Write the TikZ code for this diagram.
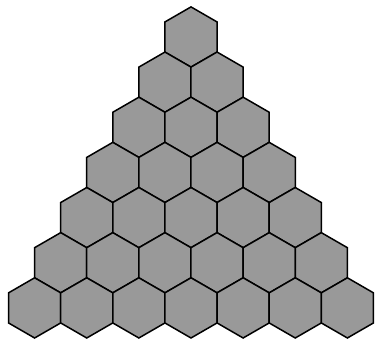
\documentclass[tikz,border=0pt]{standalone}
\definecolor{hexgray}{gray}{0.6}
\tikzset{hexcell/.style={draw=black,fill=hexgray,line width=1.5pt,line join=miter}}

\begin{document}
\begin{tikzpicture}[x=1pt,y=-1pt]
\useasboundingbox (0,0) rectangle (376,339);
% seven rows, row r holds r+1 cells
\foreach \r in {0,...,6}{
  \foreach \k in {0,...,\r}{
    \pgfmathsetmacro{\cx}{191+(\k-\r/2)*52.13}
    \pgfmathsetmacro{\cy}{37+\r*45.15}
    \draw[hexcell] (\cx,\cy) +(0,-30.1) -- +(26.07,-15.05) -- +(26.07,15.05)
      -- +(0,30.1) -- +(-26.07,15.05) -- +(-26.07,-15.05) -- cycle;
  }
}
\end{tikzpicture}
\end{document}
